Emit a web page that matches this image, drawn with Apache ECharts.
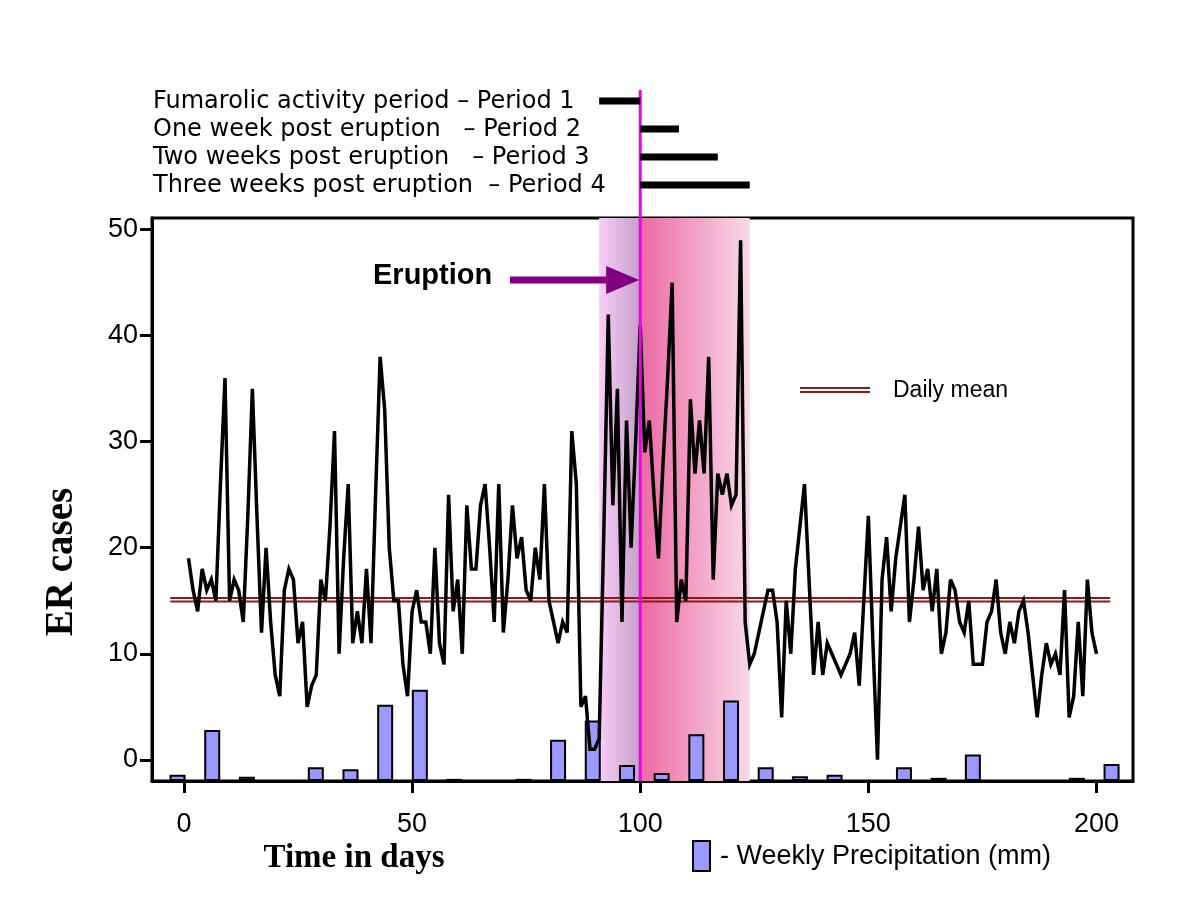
<!DOCTYPE html>
<html><head><meta charset="utf-8">
<script src="https://cdn.jsdelivr.net/npm/echarts@6/dist/echarts.min.js"></script>
<style>html,body{margin:0;padding:0;background:#fff}#c{width:1200px;height:900px}</style>
</head><body><div id="c"></div>
<script>
// ---- data ----
const FIRST_DAY = 1;
const erCases = [
  19,16,14,18,16,17,15,26,36,15,
  17,16,13,23,35,23,12,20,13,8,
  6,16,18,17,11,13,5,7,8,17,
  15,22,31,10,19,26,11,14,11,18,
  11,25,38,33,20,15,15,9,6,14,
  16,13,13,10,20,11,9,25,14,17,
  10,24,18,18,24,26,20,13,26,12,
  17,24,19,21,16,15,20,17,26,15,
  13,11,13,12,31,26,5,6,1,1,
  2,21,42,24,35,13,32,20,30,41,
  29,32,25,19,28,36,45,13,17,15,
  34,27,32,27,38,17,27,25,27,24,
  25,49,13,9,10,12,14,16,16,13,
  4,15,10,18,22,26,17,8,13,8,
  11,10,9,8,9,10,12,7,15,23,
  11,0,17,21,14,19,22,25,13,17,
  22,16,18,14,18,10,12,17,16,13,
  12,15,9,9,9,13,14,17,12,10,
  13,11,14,15,12,8,4,8,11,9,
  10,8,16,4,6,13,6,17,12,10
];
const precipDays   = [-1.4, 6.2, 13.8, 28.9, 36.5, 44.1, 51.7, 59.2, 74.4, 82.0, 89.6, 97.1, 104.7, 112.3, 119.9, 127.5, 135.0, 142.6, 157.8, 165.4, 172.9, 195.7, 203.3];
const precipValues = [0.6, 4.8, 0.4, 1.3, 1.1, 7.2, 8.6, 0.2, 0.2, 3.9, 5.7, 1.5, 0.75, 4.4, 7.6, 1.3, 0.45, 0.6, 1.3, 0.3, 2.5, 0.3, 1.6];
const xTicks = [0, 50, 100, 150, 200];
const yTicks = [0, 10, 20, 30, 40, 50];
const dailyMean = 15.1;
const meanSpan = [-3, 203];
const eruptionDay = 100;
const shadeBefore = [91, 100];
const shadeAfter = [100, 124];
const periodLabels = [
  'Fumarolic activity period \u2013 Period 1',
  'One week post eruption   \u2013 Period 2',
  'Two weeks post eruption   \u2013 Period 3',
  'Three weeks post eruption  \u2013 Period 4'
];
const periodFrom = [91, 100, 100, 100];
const periodTo   = [100, 108.5, 117, 124];

// ---- chart ----
const chart = echarts.init(document.getElementById('c'), null, {renderer: 'canvas'});
const lineData = erCases.map((v, i) => [FIRST_DAY + i, v]);
const barData = precipDays.map((d, i) => [d, precipValues[i]]);
const GAP = 0.16;
const SANS = '"Liberation Sans", Arial, sans-serif';
const SERIF = '"Liberation Serif", "Times New Roman", serif';

chart.setOption({
  animation: false,
  backgroundColor: '#fff',
  grid: {left: 152, right: 67, top: 218, bottom: 119, show: true, borderColor: '#000', borderWidth: 3, backgroundColor: 'transparent'},
  xAxis: {
    type: 'value', min: -7, max: 208,
    splitLine: {show: false},
    axisLine: {show: true, onZero: false, lineStyle: {color: '#000', width: 3}},
    axisTick: {show: true, customValues: xTicks, length: 12, lineStyle: {color: '#000', width: 3}},
    axisLabel: {customValues: xTicks, color: '#000', fontSize: 27, fontFamily: SANS, margin: 30}
  },
  yAxis: [{
    type: 'value', min: -2, max: 51.1,
    splitLine: {show: false},
    axisLine: {show: true, onZero: false, lineStyle: {color: '#000', width: 3}},
    axisTick: {show: true, customValues: yTicks, length: 12, lineStyle: {color: '#000', width: 3}},
    axisLabel: {customValues: yTicks, color: '#000', fontSize: 27, fontFamily: SANS, margin: 14}
  }, {
    type: 'value', min: 0, max: 53.1, show: false, splitLine: {show: false}
  }],
  series: [
    {
      type: 'bar', yAxisIndex: 1, data: barData, barWidth: 16, z: 2,
      itemStyle: {color: '#9999ff', borderColor: '#000', borderWidth: 2},
      markArea: {
        silent: true,
        data: [
          [{xAxis: shadeBefore[0], itemStyle: {color: new echarts.graphic.LinearGradient(0, 0, 1, 0, [
              {offset: 0, color: '#f8cdf6'}, {offset: 1, color: '#c6a0ca'}])}}, {xAxis: shadeBefore[1]}],
          [{xAxis: shadeAfter[0], itemStyle: {color: new echarts.graphic.LinearGradient(0, 0, 1, 0, [
              {offset: 0, color: '#ec68a4'}, {offset: 0.4, color: '#f197be'}, {offset: 1, color: '#f9d9e8'}])}}, {xAxis: shadeAfter[1]}]
        ]
      }
    },
    {
      type: 'line', data: [[meanSpan[0], dailyMean + GAP], [meanSpan[1], dailyMean + GAP]],
      symbol: 'none', z: 3, lineStyle: {color: '#8b1a1a', width: 2}
    },
    {
      type: 'line', data: [[meanSpan[0], dailyMean - GAP], [meanSpan[1], dailyMean - GAP]],
      symbol: 'none', z: 3, lineStyle: {color: '#8b1a1a', width: 2}
    },
    {
      type: 'line', data: lineData, symbol: 'none', z: 4,
      lineStyle: {color: '#000', width: 3.5, join: 'miter', miterLimit: 4}
    }
  ]
});

const px = (d, v) => chart.convertToPixel({xAxisIndex: 0, yAxisIndex: 0}, [d, v]);
const eX = px(eruptionDay, 0)[0];
const bottomY = px(0, -2)[1];
const g = [];
// magenta eruption line (extends above plot)
g.push({type: 'line', z: 100, shape: {x1: eX, y1: 90, x2: eX, y2: bottomY}, style: {stroke: '#ee00ee', lineWidth: 3}});
// period bars and labels
const periodY = [101, 129, 157, 185];
periodLabels.forEach((lab, i) => {
  g.push({type: 'text', z: 100, x: 153, y: periodY[i] + 1, style: {text: lab, font: '24px "DejaVu Sans", Verdana, sans-serif', fill: '#000', textAlign: 'left', textVerticalAlign: 'middle'}});
  const x1 = px(periodFrom[i], 0)[0], x2 = px(periodTo[i], 0)[0];
  g.push({type: 'line', z: 100, shape: {x1: x1, y1: periodY[i], x2: x2, y2: periodY[i]}, style: {stroke: '#000', lineWidth: 7}});
});
// Eruption arrow
const ay = 280;
g.push({type: 'text', z: 100, x: 373, y: ay - 4, style: {text: 'Eruption', font: 'bold 29px ' + SANS, fill: '#000', textAlign: 'left', textVerticalAlign: 'middle'}});
g.push({type: 'line', z: 100, shape: {x1: 510, y1: ay, x2: eX - 30, y2: ay}, style: {stroke: '#800080', lineWidth: 7}});
g.push({type: 'polygon', z: 100, shape: {points: [[eX - 34, ay - 14], [eX - 1, ay], [eX - 34, ay + 14]]}, style: {fill: '#800080'}});
// Daily mean legend
g.push({type: 'line', z: 100, shape: {x1: 800, y1: 388, x2: 870, y2: 388}, style: {stroke: '#8b1a1a', lineWidth: 2}});
g.push({type: 'line', z: 100, shape: {x1: 800, y1: 392, x2: 870, y2: 392}, style: {stroke: '#8b1a1a', lineWidth: 2}});
g.push({type: 'text', z: 100, x: 893, y: 391, style: {text: 'Daily mean', font: '23px ' + SANS, fill: '#000', textAlign: 'left', textVerticalAlign: 'middle'}});
// axis titles
g.push({type: 'text', z: 100, x: 354, y: 858, style: {text: 'Time in days', font: 'bold 33px ' + SERIF, fill: '#000', textAlign: 'center', textVerticalAlign: 'middle'}});
g.push({type: 'text', z: 100, x: 62, y: 562, rotation: Math.PI / 2, style: {text: 'ER cases', font: 'bold 39px ' + SERIF, fill: '#000', textAlign: 'center', textVerticalAlign: 'middle'}});
// precipitation legend
g.push({type: 'rect', z: 100, shape: {x: 693, y: 841, width: 17, height: 30}, style: {fill: '#9999ff', stroke: '#000', lineWidth: 2}});
g.push({type: 'text', z: 100, x: 720, y: 857, style: {text: '- Weekly Precipitation (mm)', font: '27px ' + SANS, fill: '#000', textAlign: 'left', textVerticalAlign: 'middle'}});
chart.setOption({graphic: {elements: g}});
</script></body></html>
